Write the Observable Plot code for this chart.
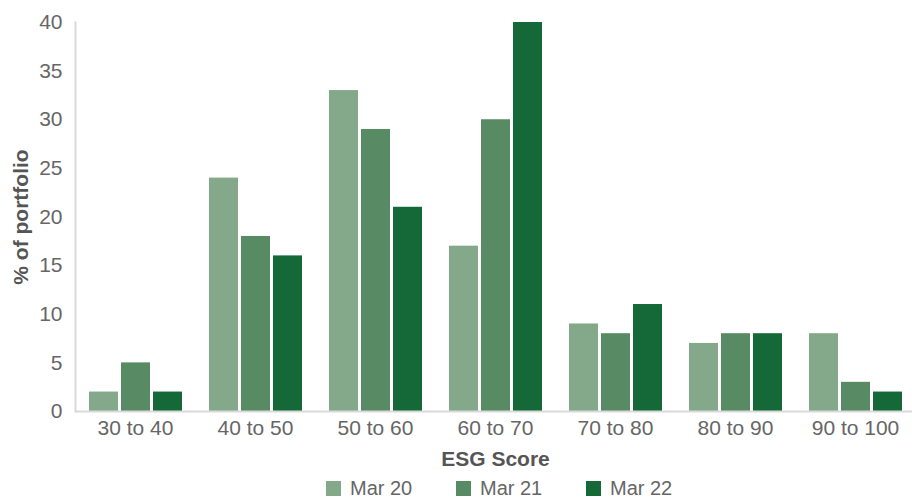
<!DOCTYPE html>
<html>
<head>
<meta charset="utf-8">
<script src="https://cdn.jsdelivr.net/npm/d3@7"></script>
<script src="https://cdn.jsdelivr.net/npm/@observablehq/plot@0.6"></script>
<style>
  body { margin: 0; background: #fff; font-family: "Liberation Sans", Arial, sans-serif; }
  #chart svg { display: block; overflow: visible; }
  g[aria-label="y-axis label"] text, g[aria-label="fx-axis label"] text { font-weight: bold; fill: #555; }
  .legend { display: flex; justify-content: center; align-items: center; height: 24px; margin-top: 2px; margin-left: 130px; color: #666; font-size: 20px; }
  .legend .item { display: flex; align-items: center; width: 130px; }
  .legend .sw { width: 15px; height: 15px; margin-right: 9px; }
</style>
</head>
<body>
<div id="chart"></div>
<div class="legend" id="legend"></div>
<script>
const categories = ["30 to 40", "40 to 50", "50 to 60", "60 to 70", "70 to 80", "80 to 90", "90 to 100"];
const seriesNames = ["Mar 20", "Mar 21", "Mar 22"];
const mar20 = [2, 24, 33, 17, 9, 7, 8];
const mar21 = [5, 18, 29, 30, 8, 8, 3];
const mar22 = [2, 16, 21, 40, 11, 8, 2];
const yTicks = [0, 5, 10, 15, 20, 25, 30, 35, 40];
const colors = ["#84a88a", "#588b64", "#156838"];

const seriesValues = [mar20, mar21, mar22];
const data = categories.flatMap((c, i) =>
  seriesValues.map((arr, j) => ({category: c, series: seriesNames[j], value: arr[i]}))
);

const chart = Plot.plot({
  width: 912,
  height: 474,
  marginLeft: 74,
  marginRight: -4,
  marginTop: 22,
  marginBottom: 63,
  style: {fontSize: "21px", fontFamily: "'Liberation Sans', Arial, sans-serif", color: "#666", background: "#fff", overflow: "visible"},
  fx: {domain: categories, padding: 0},
  x: {domain: seriesNames, paddingInner: 0.094, paddingOuter: 0.42, axis: null},
  y: {domain: [0, 40]},
  color: {domain: seriesNames, range: colors},
  marks: [
    Plot.axisY({ticks: yTicks, tickSize: 0, tickPadding: 13, label: "% of portfolio", labelArrow: "none", labelAnchor: "center", labelOffset: 62}),
    Plot.axisFx({anchor: "bottom", tickSize: 0, tickPadding: 9, label: "ESG Score", labelArrow: "none", labelAnchor: "center", labelOffset: 54}),
    Plot.barY(data, {fx: "category", x: "series", y: "value", fill: "series"}),
    Plot.ruleY([0], {stroke: "#d9d9d9", strokeWidth: 2}),
    Plot.frame({anchor: "left", fx: [categories[0]], stroke: "#d9d9d9", strokeWidth: 2})
  ]
});
document.getElementById("chart").appendChild(chart);

const legend = document.getElementById("legend");
seriesNames.forEach((s, i) => {
  const item = document.createElement("div");
  item.className = "item";
  const sw = document.createElement("span");
  sw.className = "sw";
  sw.style.background = colors[i];
  const t = document.createElement("span");
  t.textContent = s;
  item.appendChild(sw);
  item.appendChild(t);
  legend.appendChild(item);
});
</script>
</body>
</html>
